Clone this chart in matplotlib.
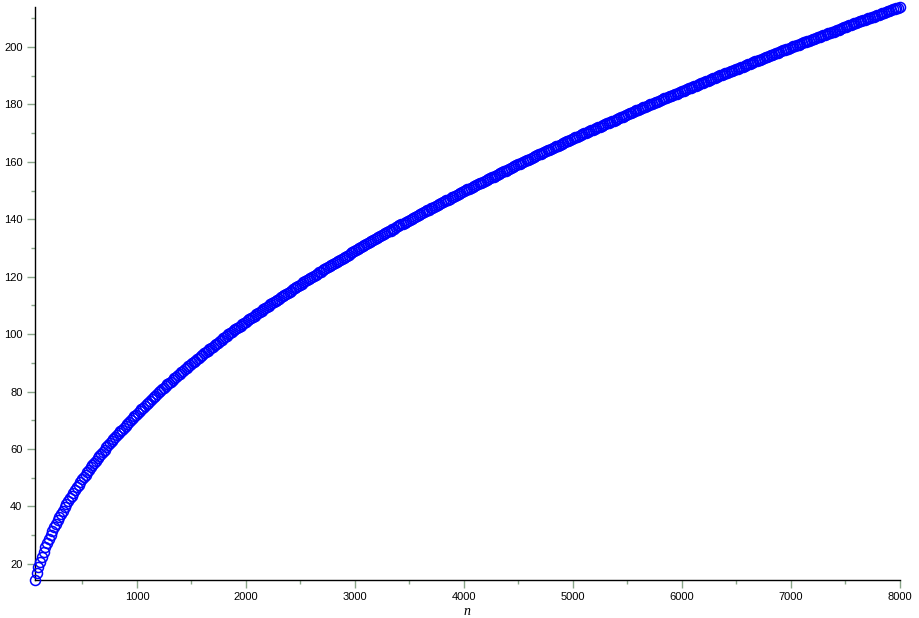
"""Open-circle point plot of a slowly growing sequence against n (Maple look)."""

import matplotlib

matplotlib.use("Agg")
import matplotlib.pyplot as plt
import numpy as np
from matplotlib.ticker import MultipleLocator

# sampling grid: n = 64, 80, ..., 8000
N_VALUES = np.arange(64, 8001, 16)

# values, one per sample of N_VALUES
Y_VALUES = [
    14.4, 16.7, 18.8, 20.7, 22.5, 24.2, 25.8, 27.3, 28.7, 30.1,
    31.5, 32.8, 34.0, 35.2, 36.4, 37.5, 38.6, 39.7, 40.8, 41.8,
    42.8, 43.8, 44.8, 45.8, 46.7, 47.6, 48.5, 49.4, 50.2, 51.1,
    51.9, 52.8, 53.6, 54.4, 55.2, 56.0, 56.8, 57.6, 58.3, 59.1,
    59.8, 60.6, 61.3, 62.0, 62.7, 63.4, 64.1, 64.8, 65.5, 66.2,
    66.8, 67.5, 68.1, 68.8, 69.4, 70.1, 70.7, 71.4, 72.0, 72.6,
    73.2, 73.8, 74.4, 75.0, 75.6, 76.2, 76.8, 77.4, 78.0, 78.6,
    79.1, 79.7, 80.2, 80.8, 81.3, 81.9, 82.5, 83.0, 83.5, 84.1,
    84.6, 85.2, 85.7, 86.2, 86.7, 87.3, 87.8, 88.3, 88.8, 89.3,
    89.8, 90.3, 90.8, 91.3, 91.8, 92.3, 92.8, 93.3, 93.8, 94.3,
    94.7, 95.2, 95.7, 96.2, 96.6, 97.1, 97.6, 98.1, 98.5, 99.0,
    99.4, 99.9, 100.3, 100.8, 101.3, 101.8, 102.2, 102.6, 103.0, 103.5,
    103.9, 104.4, 104.8, 105.3, 105.7, 106.1, 106.5, 107.0, 107.4, 107.8,
    108.2, 108.7, 109.1, 109.5, 109.9, 110.4, 110.8, 111.2, 111.6, 112.0,
    112.4, 112.8, 113.2, 113.6, 114.0, 114.4, 114.8, 115.2, 115.6, 116.0,
    116.4, 116.8, 117.2, 117.6, 118.0, 118.4, 118.8, 119.2, 119.5, 119.9,
    120.3, 120.7, 121.1, 121.5, 121.8, 122.2, 122.6, 123.0, 123.3, 123.7,
    124.1, 124.5, 124.8, 125.2, 125.5, 125.9, 126.3, 126.7, 127.0, 127.4,
    127.7, 128.1, 128.5, 128.9, 129.2, 129.6, 129.9, 130.3, 130.6, 131.0,
    131.3, 131.7, 132.0, 132.4, 132.7, 133.1, 133.4, 133.8, 134.1, 134.5,
    134.8, 135.2, 135.5, 135.8, 136.1, 136.5, 136.8, 137.2, 137.5, 137.9,
    138.2, 138.5, 138.8, 139.2, 139.5, 139.9, 140.2, 140.5, 140.8, 141.2,
    141.5, 141.8, 142.1, 142.5, 142.8, 143.1, 143.4, 143.8, 144.1, 144.4,
    144.7, 145.0, 145.3, 145.7, 146.0, 146.3, 146.6, 146.9, 147.2, 147.6,
    147.9, 148.2, 148.5, 148.8, 149.1, 149.4, 149.7, 150.1, 150.4, 150.7,
    151.0, 151.3, 151.6, 151.9, 152.2, 152.5, 152.8, 153.1, 153.4, 153.7,
    154.0, 154.3, 154.6, 154.9, 155.2, 155.5, 155.8, 156.1, 156.4, 156.7,
    157.0, 157.3, 157.6, 157.9, 158.2, 158.5, 158.8, 159.1, 159.4, 159.7,
    159.9, 160.2, 160.5, 160.8, 161.1, 161.4, 161.7, 162.0, 162.3, 162.6,
    162.8, 163.1, 163.4, 163.7, 164.0, 164.3, 164.5, 164.8, 165.1, 165.4,
    165.7, 166.0, 166.2, 166.5, 166.8, 167.1, 167.3, 167.6, 167.9, 168.2,
    168.5, 168.8, 169.0, 169.3, 169.6, 169.9, 170.1, 170.4, 170.7, 171.0,
    171.2, 171.5, 171.7, 172.0, 172.3, 172.6, 172.8, 173.1, 173.4, 173.7,
    173.9, 174.2, 174.4, 174.7, 175.0, 175.3, 175.5, 175.8, 176.0, 176.3,
    176.6, 176.9, 177.1, 177.4, 177.6, 177.9, 178.1, 178.4, 178.7, 179.0,
    179.2, 179.5, 179.7, 180.0, 180.2, 180.5, 180.7, 181.0, 181.3, 181.6,
    181.8, 182.1, 182.3, 182.6, 182.8, 183.1, 183.3, 183.6, 183.8, 184.1,
    184.3, 184.6, 184.8, 185.1, 185.3, 185.6, 185.8, 186.1, 186.3, 186.6,
    186.8, 187.1, 187.3, 187.6, 187.8, 188.1, 188.3, 188.6, 188.8, 189.1,
    189.3, 189.6, 189.8, 190.1, 190.3, 190.6, 190.8, 191.1, 191.3, 191.6,
    191.8, 192.1, 192.3, 192.5, 192.7, 193.0, 193.2, 193.5, 193.7, 194.0,
    194.2, 194.5, 194.7, 195.0, 195.2, 195.4, 195.6, 195.9, 196.1, 196.4,
    196.6, 196.9, 197.1, 197.3, 197.5, 197.8, 198.0, 198.3, 198.5, 198.8,
    199.0, 199.2, 199.4, 199.7, 199.9, 200.2, 200.4, 200.6, 200.8, 201.1,
    201.3, 201.6, 201.8, 202.0, 202.2, 202.5, 202.7, 202.9, 203.1, 203.4,
    203.6, 203.9, 204.1, 204.3, 204.5, 204.8, 205.0, 205.2, 205.4, 205.7,
    205.9, 206.1, 206.3, 206.6, 206.8, 207.1, 207.3, 207.5, 207.7, 208.0,
    208.2, 208.4, 208.6, 208.9, 209.1, 209.3, 209.5, 209.8, 210.0, 210.2,
    210.4, 210.6, 210.8, 211.1, 211.3, 211.5, 211.7, 212.0, 212.2, 212.4,
    212.6, 212.9, 213.1, 213.3, 213.5, 213.7, 213.9,
]

X_LABEL = "n"
TICK_COLOR = "#8aa68a"
POINT_COLOR = "#0000ff"


def main() -> None:
    assert len(N_VALUES) == len(Y_VALUES)

    fig = plt.figure(figsize=(9.2, 6.18), dpi=100)
    ax = fig.add_axes([0.038, 0.0615, 0.94, 0.927])

    ax.plot(N_VALUES, Y_VALUES, "o", ms=7.2, mfc="none", mec=POINT_COLOR,
            mew=1.1, clip_on=False, zorder=3)

    ax.set_xlim(min(N_VALUES), max(N_VALUES))
    ax.set_ylim(min(Y_VALUES), max(Y_VALUES))

    for side in ("top", "right"):
        ax.spines[side].set_visible(False)
    for side in ("left", "bottom"):
        ax.spines[side].set_color("black")
        ax.spines[side].set_linewidth(1.0)

    ax.xaxis.set_major_locator(MultipleLocator(1000))
    ax.xaxis.set_minor_locator(MultipleLocator(500))
    ax.yaxis.set_major_locator(MultipleLocator(20))
    ax.yaxis.set_minor_locator(MultipleLocator(10))

    ax.tick_params(which="major", length=6, width=1, color=TICK_COLOR,
                   labelsize=8, pad=3)
    ax.tick_params(which="minor", length=3, width=1, color=TICK_COLOR)
    for lab in ax.get_xticklabels() + ax.get_yticklabels():
        lab.set_family("Liberation Sans")

    ax.set_xlabel(X_LABEL, family="Liberation Serif", style="italic",
                  fontsize=10, labelpad=2)

    fig.savefig("out.png", dpi=100)


if __name__ == "__main__":
    main()
